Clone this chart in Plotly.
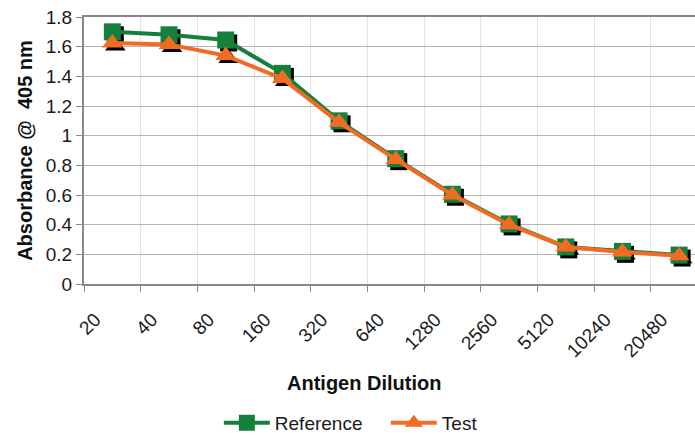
import plotly.graph_objects as go

dilutions = ["20", "40", "80", "160", "320", "640", "1280", "2560", "5120", "10240", "20480"]
reference = [1.70, 1.68, 1.645, 1.42, 1.10, 0.845, 0.605, 0.405, 0.25, 0.22, 0.195]
test = [1.625, 1.615, 1.54, 1.385, 1.09, 0.84, 0.60, 0.40, 0.25, 0.215, 0.19]

GREEN = "#14803c"
ORANGE = "#f26b22"
FONT = "Liberation Sans, Arial, sans-serif"
TXT = "#1a1a1a"

x_range = [-0.5, 10.28]
y_range = [0, 1.8]
# shadow offset: ~3px right / down
dx = 0.053
dy = 0.02

fig = go.Figure()

# shadows on base axes
fig.add_trace(go.Scatter(x=dilutions, y=reference, mode="markers", showlegend=False, hoverinfo="skip",
                         marker=dict(symbol="square", size=17, color="black"), xaxis="x", yaxis="y"))
fig.add_trace(go.Scatter(x=dilutions, y=test, mode="markers", showlegend=False, hoverinfo="skip",
                         marker=dict(symbol="triangle-up", size=18, color="black"), xaxis="x", yaxis="y"))

# real series on overlay axes
fig.add_trace(go.Scatter(x=dilutions, y=reference, name="Reference", mode="lines+markers",
                         line=dict(color=GREEN, width=4),
                         marker=dict(symbol="square", size=17, color=GREEN),
                         xaxis="x2", yaxis="y2"))
fig.add_trace(go.Scatter(x=dilutions, y=test, name="Test", mode="lines+markers",
                         line=dict(color=ORANGE, width=4),
                         marker=dict(symbol="triangle-up", size=18, color=ORANGE),
                         xaxis="x2", yaxis="y2"))

fig.update_layout(
    width=695, height=435,
    margin=dict(l=84, r=0, t=17, b=151, autoexpand=False),
    paper_bgcolor="white", plot_bgcolor="white",
    font=dict(family=FONT, size=17, color=TXT),
    xaxis=dict(type="category", range=[x_range[0] - dx, x_range[1] - dx], automargin=False,
               showticklabels=False, showgrid=False, ticks="", showline=False, zeroline=False),
    yaxis=dict(range=[y_range[0] + dy, y_range[1] + dy], showticklabels=False, showgrid=False,
               automargin=False, ticks="", showline=False, zeroline=False),
    xaxis2=dict(type="category", overlaying="x", range=x_range, tickson="boundaries",
                automargin=False,
                showgrid=True, gridcolor="#e4e4e4", gridwidth=1,
                ticks="outside", ticklen=6, tickcolor="#888888",
                showline=True, linecolor="#888888", linewidth=2, mirror=True,
                tickangle=-45, tickfont=dict(size=19, family=FONT, color=TXT),
                ticklabelshift=-17, ticklabelstandoff=15,
                side="bottom", anchor="y2"),
    yaxis2=dict(overlaying="y", range=y_range, dtick=0.2, tickformat="~g",
                automargin=False,
                showgrid=True, gridcolor="#b5b5b5", gridwidth=1,
                ticks="outside", ticklen=6, tickcolor="#888888",
                showline=True, linecolor="#888888", linewidth=2, zeroline=False,
                tickfont=dict(size=19, family=FONT, color=TXT),
                title=dict(text="<b>Absorbance @  405 nm</b>", font=dict(size=20, family=FONT, color="#111111"),
                           standoff=8),
                side="left", anchor="x2"),
    legend=dict(orientation="h", x=0.494, xanchor="center", y=-0.52, yanchor="middle",
                font=dict(size=19, family=FONT, color=TXT), itemwidth=46, entrywidth=106,
                bgcolor="rgba(0,0,0,0)"),
    annotations=[dict(text="<b>Antigen Dilution</b>", xref="paper", yref="paper",
                      x=0.459, y=-0.37, xanchor="center", yanchor="middle", showarrow=False,
                      font=dict(size=20, family=FONT, color="#111111"))],
)

fig.write_html("out.html", config={"displayModeBar": False},
               post_script="document.body.style.margin='0';")
